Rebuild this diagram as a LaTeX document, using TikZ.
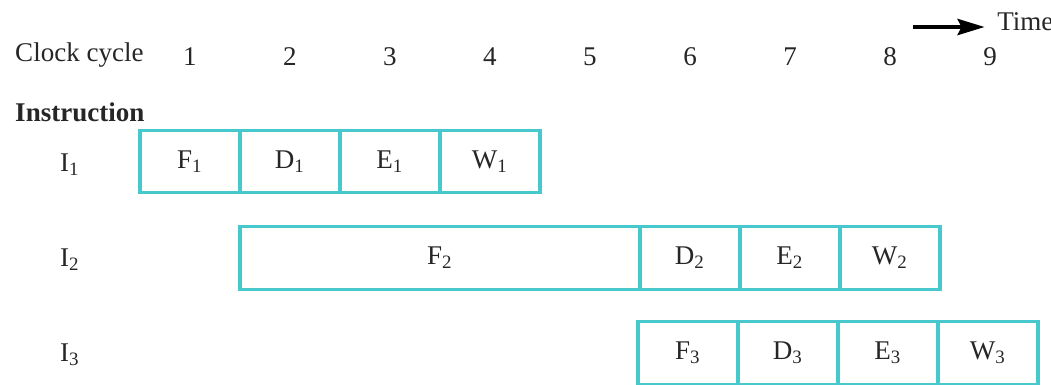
\documentclass[tikz,border=0pt]{standalone}
\usepackage{fontspec}
\setmainfont{Liberation Serif}
\usepackage{xcolor}
\usetikzlibrary{calc, arrows.meta, positioning}
\definecolor{cellline}{RGB}{70,200,205}
\def\cw{1.3cm}

\begin{document}
\begin{tikzpicture}[x=0.013cm, y=-0.013cm]

    \tikzset{stage/.style={draw=cellline, line width=1.2pt, minimum width=\cw, minimum height=0.81cm, inner sep=0pt, outer sep=0pt, text=black!85}}
    \tikzstyle{lbl}=[text=black!85, inner sep=1pt]

    \useasboundingbox (0,0) rectangle (1051,384);

    \node[lbl, anchor=west] (clock) at (12,55) {Clock cycle};
    \foreach \n in {1,...,9}
      \node[lbl] (c\n) at ({190+100*(\n-1)},57) {\n};

    \coordinate (tstart) at (913,27);
    \node[lbl, anchor=west] (time) at (994,22) {Time};
    \draw[-{Stealth[length=10pt,width=6pt,inset=1.5pt]}, line width=1.3pt, shorten >=3.5pt] (tstart) -- (time.west |- tstart);

    \node[lbl, anchor=west] (instr) at (12,112) {\textbf{Instruction}};

    % instruction 1
    \node[lbl] (i1) at (70,165) {I\textsubscript{1}};
    \node[stage] (f1) at (190,161.5) {F\textsubscript{1}};
    \node[stage, right=0pt of f1] (d1) {D\textsubscript{1}};
    \node[stage, right=0pt of d1] (e1) {E\textsubscript{1}};
    \node[stage, right=0pt of e1] (w1) {W\textsubscript{1}};

    % instruction 2
    \node[lbl] (i2) at (70,260) {I\textsubscript{2}};
    \node[stage, minimum width=4*\cw] (f2) at (440,258) {F\textsubscript{2}};
    \node[stage, right=0pt of f2] (d2) {D\textsubscript{2}};
    \node[stage, right=0pt of d2] (e2) {E\textsubscript{2}};
    \node[stage, right=0pt of e2] (w2) {W\textsubscript{2}};

    % instruction 3
    \node[lbl] (i3) at (70,355) {I\textsubscript{3}};
    \node[stage] (f3) at (688,353) {F\textsubscript{3}};
    \node[stage, right=0pt of f3] (d3) {D\textsubscript{3}};
    \node[stage, right=0pt of d3] (e3) {E\textsubscript{3}};
    \node[stage, right=0pt of e3] (w3) {W\textsubscript{3}};

\end{tikzpicture}
\end{document}
